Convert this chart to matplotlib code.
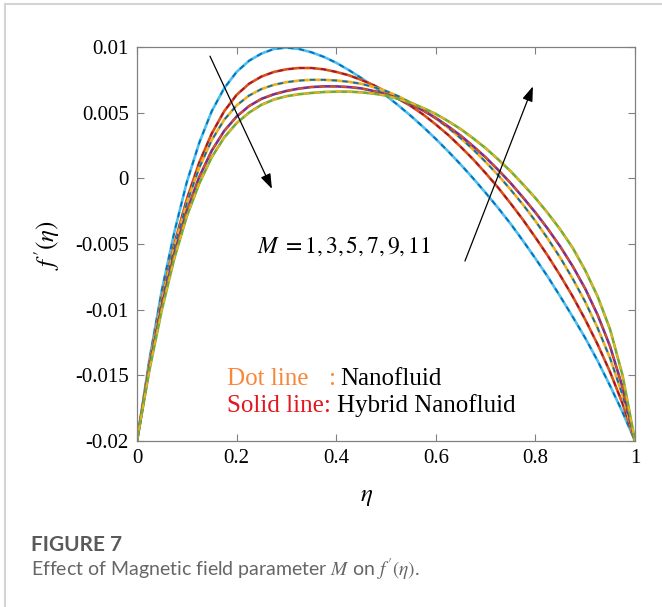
import matplotlib
matplotlib.use("Agg")
import matplotlib.pyplot as plt
from matplotlib.lines import Line2D

plt.rcParams['font.family'] = ['Liberation Serif', 'DejaVu Serif']
plt.rcParams['mathtext.fontset'] = 'stix'
plt.rcParams['axes.unicode_minus'] = False

# eta grid (step 0.025)
eta = [i * 0.025 for i in range(41)]

# f'(eta), one curve per visible M group
f_m1 = [-0.0200, -0.01380, -0.00850, -0.00410, -0.00030, 0.00270, 0.00510,
        0.00685, 0.00810, 0.00895, 0.00950, 0.00985, 0.00995, 0.00985,
        0.00960, 0.00925, 0.00880, 0.00825, 0.00765, 0.00700, 0.00630,
        0.00555, 0.00475, 0.00390, 0.00300, 0.00205, 0.00105, 0.00000,
        -0.00110, -0.00225, -0.00345, -0.00475, -0.00610, -0.00750, -0.00900,
        -0.01055, -0.01215, -0.01390, -0.01580, -0.01780, -0.02000]
f_m3 = [-0.0200, -0.01410, -0.00910, -0.00500, -0.00160, 0.00120, 0.00340,
        0.00510, 0.00635, 0.00720, 0.00775, 0.00810, 0.00830, 0.00840,
        0.00840, 0.00830, 0.00810, 0.00785, 0.00750, 0.00710, 0.00660,
        0.00605, 0.00550, 0.00485, 0.00410, 0.00330, 0.00240, 0.00145,
        0.00040, -0.00070, -0.00190, -0.00315, -0.00450, -0.00590, -0.00740,
        -0.00900, -0.01075, -0.01265, -0.01475, -0.01715, -0.02000]
f_m5 = [-0.0200, -0.01420, -0.00930, -0.00525, -0.00190, 0.00080, 0.00290,
        0.00445, 0.00555, 0.00630, 0.00680, 0.00712, 0.00732, 0.00744,
        0.00750, 0.00750, 0.00745, 0.00735, 0.00720, 0.00695, 0.00665,
        0.00625, 0.00575, 0.00520, 0.00455, 0.00385, 0.00305, 0.00220,
        0.00125, 0.00025, -0.00085, -0.00200, -0.00325, -0.00460, -0.00605,
        -0.00765, -0.00940, -0.01140, -0.01370, -0.01650, -0.02000]
f_m7 = [-0.0200, -0.01440, -0.00970, -0.00575, -0.00250, 0.00010, 0.00210,
        0.00360, 0.00470, 0.00550, 0.00605, 0.00640, 0.00665, 0.00683,
        0.00695, 0.00700, 0.00700, 0.00695, 0.00685, 0.00665, 0.00640,
        0.00605, 0.00565, 0.00515, 0.00460, 0.00395, 0.00325, 0.00245,
        0.00160, 0.00065, -0.00035, -0.00145, -0.00260, -0.00385, -0.00520,
        -0.00670, -0.00840, -0.01040, -0.01280, -0.01590, -0.02000]
f_m9 = [-0.0200, -0.01460, -0.01000, -0.00610, -0.00290, -0.00040, 0.00160,
        0.00310, 0.00420, 0.00500, 0.00560, 0.00600, 0.00625, 0.00640,
        0.00650, 0.00657, 0.00660, 0.00660, 0.00655, 0.00645, 0.00630,
        0.00605, 0.00575, 0.00535, 0.00490, 0.00435, 0.00375, 0.00305,
        0.00230, 0.00145, 0.00055, -0.00045, -0.00150, -0.00265, -0.00390,
        -0.00530, -0.00700, -0.00900, -0.01150, -0.01500, -0.02000]

curves = [f_m1, f_m3, f_m5, f_m7, f_m9]
solid_colors = ['#4DBEEE', '#D95319', '#EDB120', '#7E2F8E', '#77AC30']
dash_colors = ['#0072BD', '#A2142F', '#0072BD', '#D95319', '#EDB120']

yticks = [0.01, 0.005, 0, -0.005, -0.01, -0.015, -0.02]
ytick_labels = ['0.01', '0.005', '0', '-0.005', '-0.01', '-0.015', '-0.02']
xticks = [0, 0.2, 0.4, 0.6, 0.8, 1]
xtick_labels = ['0', '0.2', '0.4', '0.6', '0.8', '1']

fig = plt.figure(figsize=(6.62, 6.07), dpi=100)
ax = fig.add_axes([0.2069, 0.2735, 0.7523, 0.6491])

for f, cs, cd in zip(curves, solid_colors, dash_colors):
    ax.plot(eta, f, color=cs, lw=1.9, solid_joinstyle='round')
    ax.plot(eta, f, color=cd, lw=1.3, dashes=(3, 3))

ax.set_xlim(0, 1)
ax.set_ylim(-0.02, 0.01)
ax.set_xticks(xticks)
ax.set_xticklabels(xtick_labels)
ax.set_yticks(yticks)
ax.set_yticklabels(ytick_labels)
ax.tick_params(direction='in', length=5, width=0.8, color='#808080',
               labelsize=15, top=True, right=True, pad=6)
for s in ax.spines.values():
    s.set_color('#808080')
    s.set_linewidth(0.9)

# arrows
arrow = dict(arrowstyle='-|>,head_length=0.9,head_width=0.32', color='black',
             lw=0.9, shrinkA=0, shrinkB=0)
ax.annotate('', xy=(0.271, -0.0008), xytext=(0.1466, 0.0093), arrowprops=arrow)
ax.annotate('', xy=(0.795, 0.0070), xytext=(0.6586, -0.0063), arrowprops=arrow)

ax.text(0.241, -0.0052, r'$M\;=1{,}\,3{,}\,5{,}\,7{,}\,9{,}\,11$', fontsize=17,
        va='center')

ax.text(0.18, -0.0153, 'Dot line', color='#F7873A', fontsize=18, va='center')
ax.text(0.386, -0.0153, ':', color='#F7873A', fontsize=18, va='center')
ax.text(0.408, -0.0153, 'Nanofluid', color='black', fontsize=18, va='center')
ax.text(0.18, -0.0173, 'Solid line:', color='#E3161E', fontsize=18, va='center')
ax.text(0.402, -0.0173, 'Hybrid Nanofluid', color='black', fontsize=18, va='center')

fig.text(47 / 662, 1 - 245 / 607, r"$f\,'(\eta)$", rotation=90, fontsize=18,
         ha='center', va='center')
fig.text(367 / 662, 1 - 497 / 607, r'$\eta$', fontsize=18, ha='center', va='center')

# panel frame
fig.add_artist(Line2D([5 / 662, 1], [1 - 4 / 607, 1 - 4 / 607], color='#d4d4d4', lw=1.5))
fig.add_artist(Line2D([5 / 662, 5 / 662], [0, 1 - 4 / 607], color='#d4d4d4', lw=1.5))

fig.text(31 / 662, 1 - 545 / 607, 'FIGURE 7', family='Lato', weight='bold',
         fontsize=15, color='#5a5a5a', va='center')
fig.text(31 / 662, 1 - 570 / 607,
         r"Effect of Magnetic field parameter $M$ on $f\,'(\eta)$.",
         family='Lato', fontsize=14, color='#666666', va='center')

fig.savefig('out.png', dpi=100)
